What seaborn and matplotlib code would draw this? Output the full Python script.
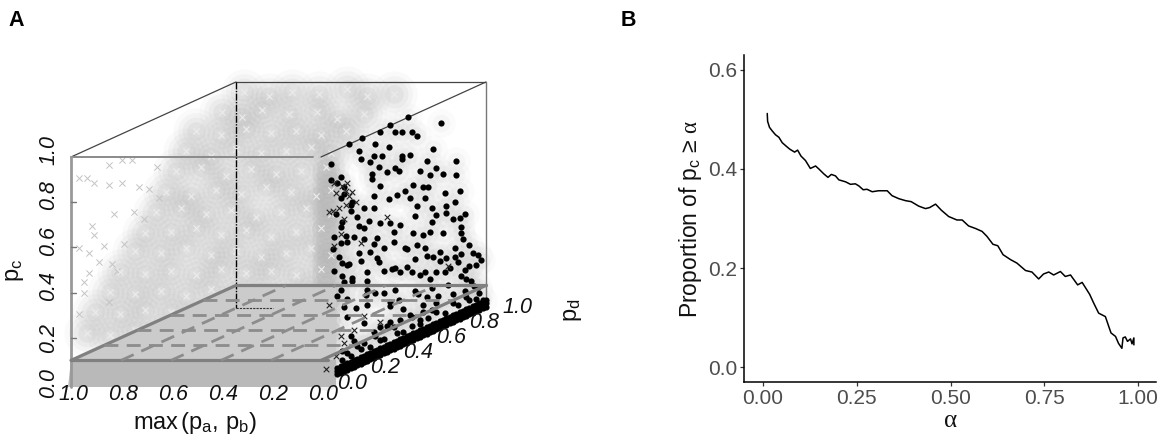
import numpy as np
import pandas as pd
import seaborn as sns
import matplotlib.pyplot as plt

# panel B, proportion curve
alpha_vals = [.011, .012, .017, .024, .033, .042, .051, .060, .071, .084, .092, .101, .113, .126, .140, .150,
              .162, .173, .182, .193, .202, .220, .233, .246, .255, .267, .277, .291, .308, .331, .344, .362,
              .380, .395, .415, .433, .444, .460, .475, .495, .517, .531, .548, .566, .584, .597, .613, .626,
              .640, .660, .677, .700, .717, .735, .748, .762, .775, .793, .806, .820, .839, .851, .871, .882,
              .895, .913, .922, .928, .940, .948, .957, .960, .966, .972, .980, .984, .989, .989]
prop_vals = [.512, .496, .484, .477, .469, .464, .453, .447, .440, .434, .438, .426, .417, .401, .406, .399,
             .390, .383, .389, .386, .378, .374, .369, .370, .366, .358, .359, .354, .356, .356, .346, .340,
             .336, .334, .325, .320, .322, .329, .317, .304, .297, .297, .285, .280, .274, .264, .248, .245,
             .227, .217, .210, .195, .192, .178, .188, .192, .186, .193, .183, .186, .166, .171, .147, .129,
             .109, .102, .082, .069, .062, .048, .038, .059, .061, .052, .057, .047, .059, .045]

# panel A, black points (all sit at max(pa, pb) close to 0)
black_pd = [.53, .73, .42, .36, .45, .49, .55, .58, .25, .17, .23, .68, .33, .41, .32, .37, .49, .54, .49, .24,
            .64, .82, .06, .30, .35, .40, .45, .47, .31, .60, .70, .82, .66, .74, .31, .12, .56, .62, .65, .84,
            .51, .46, .41, .36, .75, .63, .32, .54, .14, .12, .19, .81, .76, .58, .67, .26, .32, .18, .87, .57,
            .70, .76, .84, .80, .67, .13, .23, .36, .42, .48, .85, .85, .74, .56, .66, .62, .34, .26, .16, .12,
            .44, .51, .58, .63, .86, .90, .81, .85, .92, .72, .64, .23, .32, .07, .35, .17, .13, .57, .68, .76,
            .81, .95, .97, .94, .45, .52, .08, .28, .38, .43, .60, .70, .78, .75, .87, .85, .91, .66, .19, .28,
            .14, .12, .16, .14, .28, .45, .38, .57, .64, .71, .87, .98, .94, .28, .42, .50, .62, .16, .26, .18,
            .55, .60, .65, .46, .36, .22, .16, .13, .32, .70, .80,
            .06, .10, .14, .09, .18, .12, .22, .08, .15, .20, .11, .26, .29, .16, .24, .13, .30, .19, .10, .34,
            .38, .44, .27, .21, .33, .48, .52, .55, .42, .59, .63, .67, .72, .77, .83, .88, .90, .93, .40, .47,
            .13, .20, .26, .33, .38, .44, .50, .55, .60, .67, .75, .83, .90, .96, .18, .24, .30, .36, .42, .48,
            .54, .62, .70, .80, .88, .95]
black_pc = [1.0, .91, 1.0, .99, .96, .95, .93, .90, 1.0, 1.0, .95, .81, .95, .91, .90, .88, .84, .83, .83, .91,
            .77, .71, .95, .88, .84, .80, .80, .78, .82, .74, .72, .65, .70, .68, .80, .87, .69, .66, .65, .57,
            .68, .68, .68, .75, .59, .61, .72, .64, .82, .78, .74, .53, .53, .59, .55, .69, .67, .73, .46, .55,
            .51, .50, .45, .46, .49, .67, .62, .59, .57, .54, .41, .38, .42, .48, .45, .45, .53, .55, .57, .58,
            .48, .43, .42, .39, .35, .31, .33, .29, .27, .34, .35, .50, .51, .57, .42, .47, .49, .36, .33, .30,
            .29, .25, .22, .21, .36, .34, .47, .40, .37, .36, .28, .26, .25, .24, .21, .19, .15, .24, .39, .36,
            .40, .37, .32, .29, .32, .26, .27, .22, .17, .15, .12, .04, .06, .25, .20, .16, .14, .24, .18, .15,
            .07, .08, .07, .07, .07, .09, .08, .06, .12, .08, .09,
            .88, .85, .79, .72, .70, .65, .66, .62, .60, .58, .52, .60, .62, .47, .46, .43, .48, .40, .35, .44,
            .47, .52, .30, .26, .29, .33, .42, .31, .22, .20, .28, .20, .30, .18, .26, .17, .22, .12, .12, .21,
            .10, .12, .09, .10, .07, .10, .06, .11, .06, .10, .06, .07, .07, .08, .06, .07, .06, .13, .13, .12,
            .12, .11, .12, .13, .09, .11]
black_max = [0.0] * len(black_pd)

# black crosses mixed in near the front of the right edge
cross_pd = [.09, .13, .15, .17, .21, .07, .11, .15, .08, .16, .19, .14, .05, .12, .08, .24, .40, .77, .20, .14,
            .09, .26, .36, .12, .05, .03]
cross_pc = [.81, .83, .80, .77, .73, .74, .74, .74, .86, .83, .78, .68, .74, .62, .58, .54, .60, .26, .17, .13,
            .09, .21, .15, .17, .33, .05]
cross_max = [0.0] * len(cross_pd)

# dense black band along pc close to 0
band_pd = [.10, .12, .14, .16, .18, .20, .22, .24, .26, .28, .30, .32, .34, .36, .38, .40, .42, .44, .46, .48,
           .50, .52, .54, .56, .58, .60, .62, .64, .66, .68, .70, .72, .74, .76, .78, .80, .82, .84, .86, .88,
           .90, .92, .94, .96, .98, 1.0]
band_levels = [.006, .02, .034]

# grey cloud
grey_max = [.90, .80, .71, .60, .49, .41, .30,
            .99, .91, .83, .72, .61, .53, .42,
            .83, .73, .63, .53, .43, .33, .23,
            .87, .77, .67, .57, .47, .37, .29,
            .91, .81, .71, .61, .51, .41, .31,
            .95, .85, .75, .65, .55, .45, .35, .29,
            .99, .89, .79, .69, .59, .49, .39, .29,
            .77, .93, .83, .73, .63, .53, .43, .33,
            .81, .97, .87, .77, .67, .57, .47, .37, .29,
            .87, .77, .93, .83, .73, .63, .53, .43, .33,
            .91, .81, .97, .87, .77, .67, .57, .47, .37, .29,
            .97, .87, .77, .93, .83, .73, .63, .53, .43, .33,
            1.0, .91, .81, .97, .87, .77, .67, .57, .47, .37, .29]
grey_pd = [.90] * 14 + [.50] * 37 + [.10] + [.50] * 7 + [.10] + [.50] * 8 + [.10] * 2 + [.50] * 7 \
          + [.10] * 2 + [.50] * 8 + [.10] * 3 + [.50] * 7 + [.10] * 3 + [.50] * 8
grey_pc = [.99, .97, .99, .98, 1.0, .97, .98,
           .90, .88, .91, .89, .90, .87, .89,
           .95, .93, .96, .94, .95, .93, .95,
           .86, .84, .87, .85, .86, .88, .85,
           .77, .79, .75, .78, .76, .77, .79,
           .68, .66, .69, .67, .70, .68, .66, .69,
           .59, .61, .58, .60, .57, .59, .61, .58,
           .63, .50, .52, .49, .51, .48, .50, .52,
           .55, .41, .43, .40, .42, .39, .41, .43, .40,
           .46, .45, .33, .31, .34, .32, .33, .31, .34,
           .37, .36, .24, .22, .25, .23, .24, .22, .25, .23,
           .28, .27, .29, .15, .13, .16, .14, .15, .13, .16,
           .19, .18, .20, .06, .07, .05, .06, .07, .05, .06, .07]

# sparse grey crosses on the left side
xs_max = [1.0, .97, .94, .88, .83, .79, .69, .88, .83, .76, .72, .68, .86, .78, .74, .95, .94, .90, .96, 1.0,
          .92, .87, .96, .98, .98, 1.0, .88, .82, .85]
xs_pc = [.89, .89, .87, .95, .97, .97, .94, .86, .87, .85, .84, .80, .73, .74, .71, .68, .64, .59, .56, .58,
         .52, .51, .47, .43, .38, .29, .34, .60, .48]
xs_pd = [.05] * len(xs_max)

# column of denser grey at the right of the front face
column_pc = [.02, .07, .12, .17, .22, .27, .32, .37, .42, .47, .52, .57, .62, .67, .72, .77, .82, .87, .92]
column_pd = [.03] * len(column_pc)
column_max = [0.0] * len(column_pc)

pc_ticks = [0.0, 0.2, 0.4, 0.6, 0.8, 1.0]
max_ticks = [1.0, 0.8, 0.6, 0.4, 0.2, 0.0]
pd_ticks = [0.0, 0.2, 0.4, 0.6, 0.8, 1.0]
plane_pc = 0.1


def proj(m, d, c):
    # oblique projection as in scatterplot3d
    m, d, c = np.asarray(m, float), np.asarray(d, float), np.asarray(c, float)
    return 0.66 * d - m, c + 0.332 * d


def points(ax, m, d, c, **kw):
    x, y = proj(m, d, c)
    sns.scatterplot(data=pd.DataFrame({"x": x, "y": y}), x="x", y="y", ax=ax, legend=False, **kw)


def seg(ax, a, b, **kw):
    x, y = proj(*zip(a, b))
    ax.plot(x, y, **kw)


sns.set_theme(style="white")
plt.rcParams["font.family"] = ["Liberation Sans", "DejaVu Sans"]
plt.rcParams["mathtext.fontset"] = "custom"
plt.rcParams["mathtext.rm"] = "Liberation Sans"
plt.rcParams["mathtext.it"] = "Liberation Serif"
plt.rcParams["mathtext.bf"] = "Liberation Sans:bold"

fig = plt.figure(figsize=(11.64, 4.40), dpi=100)

# panel A
ax = fig.add_axes([0, 0, 600 / 1164, 400 / 440])
ax.set_xlim((0 - 321) / 250, (600 - 321) / 250)
ax.set_ylim((383 - 440) / 226, (383 - 40) / 226)
ax.axis("off")

# nested sizes so the cloud looks soft
for size, a in [(1100, 0.05), (700, 0.08), (400, 0.10), (180, 0.12)]:
    points(ax, grey_max, grey_pd, grey_pc, s=size, color="#a8a8a8", alpha=a, linewidth=0, zorder=1)
for size, a in [(420, 0.06), (160, 0.10)]:
    points(ax, black_max, black_pd, black_pc, s=size, color="#c4c4c4", alpha=a, linewidth=0, zorder=1)
for size, a in [(420, 0.18), (220, 0.22)]:
    points(ax, column_max, column_pd, column_pc, s=size, color="#b0b0b0", alpha=a, linewidth=0, zorder=2)
points(ax, xs_max, xs_pd, xs_pc, s=20, marker="x", color="#c4c4c4", linewidth=0.7, zorder=2)
points(ax, grey_max, grey_pd, grey_pc, s=20, marker="x", color="#ececec", linewidth=0.8, zorder=2)

# floor under the plane and strip in front of it
x, y = proj([1, -0.06, 0.6, 1], [0, 0, 1, 1], [plane_pc] * 4)
ax.fill(x, y, color="#cbcbcb", lw=0, zorder=2.5)
x, y = proj([1.01, -0.06, -0.06, 1.0], [0, 0, 0, 0], [-0.018, -0.018, plane_pc, plane_pc])
ax.fill(x, y, color="#b9b9b9", lw=0, zorder=2.5)

# box
thin = dict(color="#444444", lw=0.9, zorder=3)
seg(ax, (1, 0, 1), (1, 1, 1), **thin)
seg(ax, (1, 1, 1), (0, 1, 1), **thin)
seg(ax, (0, 0, 1), (0, 1, 1), **thin)
seg(ax, (0, 1, 1), (0, 1, 0), color="#777777", lw=1.0, zorder=3)
seg(ax, (1, 0, 1), (0.03, 0, 1), color="#8a8a8a", lw=1.4, zorder=3)
seg(ax, (1, 0, 1), (1, 0, -0.018), color="#999999", lw=2.0, zorder=3)
seg(ax, (1, 1, 1), (1, 1, 0), color="black", lw=1.0, ls=(0, (5, 1, 1, 1)), zorder=3)
seg(ax, (1, 1, 0), (0.85, 1, 0), color="#333333", lw=0.8, ls=(0, (2, 1)), zorder=3)

for t in pc_ticks[1:5]:
    seg(ax, (1, 0, t), (0.98, 0, t), color="#777777", lw=1.0, zorder=3)

# black points
points(ax, black_max, black_pd, black_pc, s=20, color="black", linewidth=0, zorder=4)
points(ax, cross_max, cross_pd, cross_pc, s=16, marker="x", color="#222222", linewidth=0.8, zorder=4)
for lev in band_levels:
    points(ax, [0.0] * len(band_pd), band_pd, [lev] * len(band_pd), s=20, color="black", linewidth=0, zorder=4)

# plane at pc = 0.1
solid = dict(color="#808080", lw=2.3, zorder=5)
seg(ax, (1, 0, plane_pc), (-0.03, 0, plane_pc), **solid)
seg(ax, (1, 1, plane_pc), (0, 1, plane_pc), **solid)
seg(ax, (1, 0, plane_pc), (1, 1, plane_pc), **solid)
seg(ax, (0, 0, plane_pc), (0, 1, plane_pc), **solid)
dash = dict(color="#8c8c8c", lw=2.0, ls=(0, (5, 3)), zorder=5)
for t in [0.2, 0.4, 0.6, 0.8]:
    seg(ax, (1, t, plane_pc), (0, t, plane_pc), **dash)
    seg(ax, (t, 0, plane_pc), (t, 1, plane_pc), **dash)

# tick labels of panel A
tick_txt = dict(fontsize=15.5, style="italic", color="#111111", zorder=6)
for t in pc_ticks:
    x, y = proj(1, 0, t)
    ax.text(x - 0.09, y + (0.03 if t > 0.3 else 0.0), f"{t:.1f}", rotation=90, ha="center", va="center", **tick_txt)
for t in max_ticks:
    x, y = proj(t, 0, 0)
    ax.text(x + 0.008, y - 0.053, f"{t:.1f}", ha="center", va="center", **tick_txt)
for t in pd_ticks:
    x, y = proj(0, t, 0)
    ax.text(x + 0.124, y, f"{t:.1f}", ha="center", va="center", **tick_txt)

ax.text((195 - 321) / 250, (383 - 423) / 226, r"max$\,(\mathrm{p_a},\,\mathrm{p_b})$", fontsize=17,
        ha="center", va="center", color="#111111")
ax.text((15 - 321) / 250, (383 - 270) / 226, r"$\mathrm{p_c}$", fontsize=17, rotation=90,
        ha="center", va="center", color="#111111")
ax.text((573 - 321) / 250, (383 - 310) / 226, r"$\mathrm{p_d}$", fontsize=17, rotation=90,
        ha="center", va="center", color="#111111")

# panel B
ax2 = fig.add_axes([744 / 1164, (440 - 382) / 440, 412 / 1164, 327 / 440])
curve = pd.DataFrame({"alpha": alpha_vals, "prop": prop_vals})
sns.lineplot(data=curve, x="alpha", y="prop", ax=ax2, color="black", lw=1.1, sort=False, estimator=None)
ax2.set_xlim(-0.051, 1.048)
ax2.set_ylim(-0.03, 0.63)
ax2.set_xticks([0, 0.25, 0.5, 0.75, 1.0], ["0.00", "0.25", "0.50", "0.75", "1.00"])
ax2.set_yticks([0, 0.2, 0.4, 0.6], ["0.0", "0.2", "0.4", "0.6"])
ax2.tick_params(axis="both", labelsize=15, labelcolor="#4d4d4d", length=3, width=0.9, color="#333333", pad=2,
                bottom=True, left=True)
ax2.set_xlabel(r"$\alpha$", fontsize=18, labelpad=0, color="#111111")
ax2.set_ylabel(r"Proportion of $\mathrm{p_c}$$\,\geq\,$$\alpha$", fontsize=16.5, labelpad=3, color="#111111")
sns.despine(ax=ax2)
for s in ["left", "bottom"]:
    ax2.spines[s].set_color("black")
    ax2.spines[s].set_linewidth(1.1)

fig.text(8 / 1164, 1 - 20 / 440, "A", fontsize=15.5, fontweight="bold", ha="left", va="center", color="black")
fig.text(621 / 1164, 1 - 20 / 440, "B", fontsize=15.5, fontweight="bold", ha="left", va="center", color="black")

fig.savefig("out.png", dpi=100)
